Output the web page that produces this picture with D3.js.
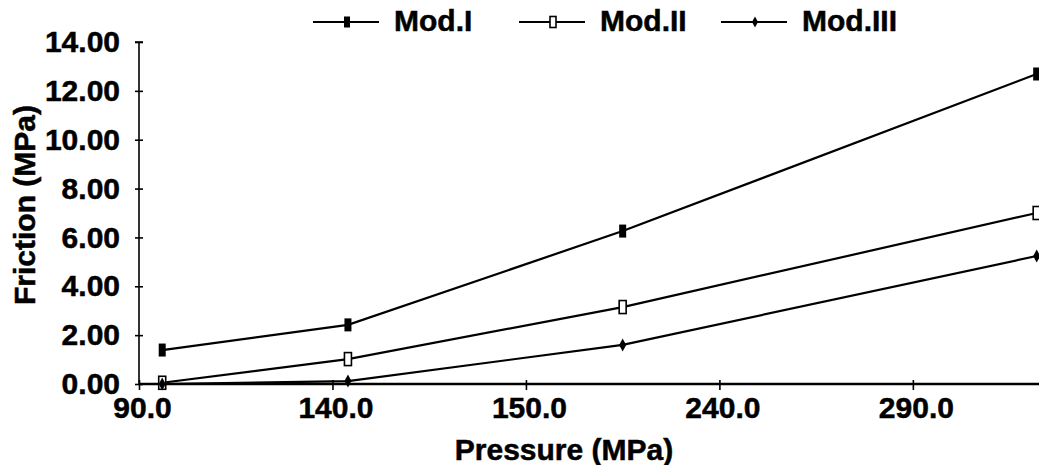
<!DOCTYPE html>
<html>
<head>
<meta charset="utf-8">
<script src="https://cdn.jsdelivr.net/npm/d3@7"></script>
<style>
  body { margin: 0; background: #fff; }
  svg text { font-family: "Liberation Sans", Arial, sans-serif; font-weight: bold; fill: #000; stroke: #000; stroke-width: 0.5px; }
</style>
</head>
<body>
<svg width="1039" height="465"></svg>
<script>
// pressure values (MPa) where the points sit
var pressure = [96, 144, 215, 322];
var modI   = [1.39, 2.42, 6.26, 12.69];
var modII  = [0.05, 1.02, 3.15, 7.00];
var modIII = [0.00, 0.12, 1.60, 5.24];

var xTicks = [90, 140, 190, 240, 290];
var xTickLabels = ["90.0", "140.0", "150.0", "240.0", "290.0"];
var yTicks = [0, 2, 4, 6, 8, 10, 12, 14];

var seriesNames = ["Mod.I", "Mod.II", "Mod.III"];
var seriesVals = [modI, modII, modIII];

var svg = d3.select("svg");

var x = d3.scaleLinear().domain([90, 322.6]).range([139, 1039]);
var y = d3.scaleLinear().domain([0, 14]).range([384, 42]);

// y axis
var yAxis = svg.append("g")
  .attr("transform", "translate(139,0)")
  .call(d3.axisLeft(y).tickValues(yTicks).tickFormat(d3.format(".2f")).tickSize(4).tickPadding(15));
yAxis.select(".domain").attr("stroke", "#000").attr("stroke-width", 1.6).attr("d", "M-4,42H4M0,42V384");
yAxis.selectAll(".tick line").attr("x1", 4).attr("x2", -4).attr("stroke-width", 1.6);
yAxis.selectAll(".tick text").attr("font-size", 30).style("font-family", "'Liberation Sans', Arial, sans-serif").style("font-weight", "bold").attr("fill", "#000");

// x axis
var xAxis = svg.append("g")
  .attr("transform", "translate(0,384)")
  .call(d3.axisBottom(x).tickValues(xTicks).tickFormat(function(d, i) { return xTickLabels[i]; }).tickSize(5).tickPadding(8));
xAxis.select(".domain").attr("stroke", "#000").attr("stroke-width", 2.6).attr("d", "M139,0H1039");
xAxis.selectAll(".tick line").attr("y1", -4).attr("y2", 6).attr("stroke-width", 1.6);
xAxis.selectAll(".tick text").attr("font-size", 30).attr("dx", 3).style("font-family", "'Liberation Sans', Arial, sans-serif").style("font-weight", "bold").attr("fill", "#000");

// axis titles
svg.append("text").attr("x", 564).attr("y", 460).attr("text-anchor", "middle")
  .attr("font-size", 30).text("Pressure (MPa)");
svg.append("text").attr("transform", "translate(35,205) rotate(-90)").attr("text-anchor", "middle")
  .attr("font-size", 30).text("Friction (MPa)");

// markers
function marker(g, i, w, h) {
  if (i === 0) {
    g.append("rect").attr("x", -w / 2).attr("y", -h / 2).attr("width", w).attr("height", h).attr("fill", "#000");
  } else if (i === 1) {
    g.append("rect").attr("x", -w / 2).attr("y", -h / 2).attr("width", w).attr("height", h)
      .attr("fill", "#fff").attr("stroke", "#000").attr("stroke-width", 1.6);
  } else {
    g.append("path").attr("d", "M0," + (-h / 2) + "L" + (w / 2) + ",0L0," + (h / 2) + "L" + (-w / 2) + ",0Z").attr("fill", "#000");
  }
}

var line = d3.line().x(function(d, i) { return x(pressure[i]); }).y(function(d) { return y(d); });

seriesVals.forEach(function(vals, si) {
  svg.append("path").datum(vals).attr("d", line)
    .attr("fill", "none").attr("stroke", "#000").attr("stroke-width", 2.2);
  vals.forEach(function(v, i) {
    var g = svg.append("g").attr("transform", "translate(" + x(pressure[i]) + "," + y(v) + ")");
    marker(g, si, 7, 13);
  });
});

// legend
var legendX = [313, 519, 721];
seriesNames.forEach(function(name, i) {
  var g = svg.append("g").attr("transform", "translate(" + legendX[i] + ",22)");
  g.append("line").attr("x1", 0).attr("x2", 66).attr("y1", 0).attr("y2", 0).attr("stroke", "#000").attr("stroke-width", 2);
  var m = g.append("g").attr("transform", "translate(34,0)");
  marker(m, i, 6, 11);
  g.append("text").attr("x", 81).attr("y", 9).attr("font-size", 30).text(name);
});
</script>
</body>
</html>
